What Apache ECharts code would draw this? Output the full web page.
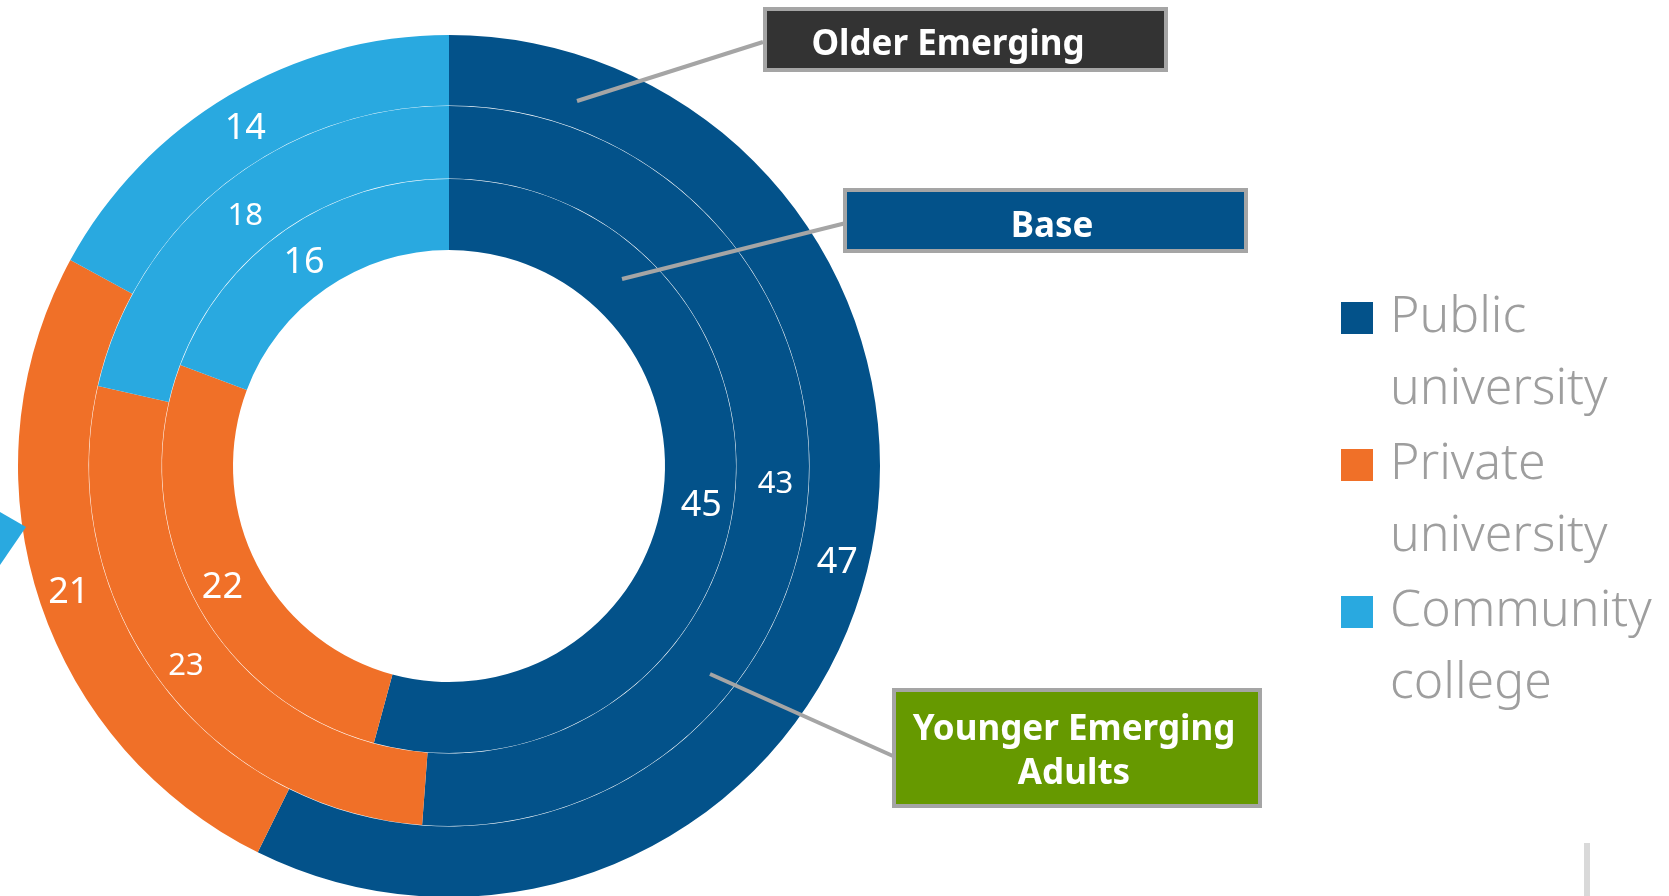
<!DOCTYPE html>
<html>
<head>
<meta charset="utf-8">
<title>Institution type by group</title>
<script src="https://cdn.jsdelivr.net/npm/echarts@6/dist/echarts.min.js"></script>
<style>
  html, body { margin: 0; padding: 0; background: #ffffff; }
  #chart { width: 1669px; height: 896px; }
</style>
</head>
<body>
<div id="chart"></div>
<script>
// Institution types (slice order, clockwise from 12 o'clock)
const categories = ['Public university', 'Private university', 'Community college'];
// Ring values, inner to outer
const baseValues = [45, 22, 16];
const youngerValues = [43, 23, 18];
const olderValues = [47, 21, 14];
const ringNames = ['Base', 'Younger Emerging Adults', 'Older Emerging'];

const colors = ['#03528a', '#f07028', '#29a9e0'];
const FONT = '"Noto Sans", "Open Sans", sans-serif';
const CX = 449, CY = 466;

function ring(name, values, radius, fontSize) {
  return {
    type: 'pie',
    name: name,
    center: [CX, CY],
    radius: radius,
    startAngle: 90,
    clockwise: true,
    silent: true,
    avoidLabelOverlap: false,
    itemStyle: { borderWidth: 0 },
    label: {
      show: true,
      position: 'inside',
      // small spacer line above the value nudges the digits onto the ring centre
      formatter: '{s| }\n{v|{c}}',
      rich: {
        s: { fontSize: 8, lineHeight: 12 },
        v: {
          color: '#ffffff',
          fontFamily: FONT,
          fontSize: fontSize,
          lineHeight: fontSize,
          fontWeight: 'normal'
        }
      }
    },
    labelLine: { show: false },
    emphasis: { disabled: true },
    data: categories.map((c, i) => ({ name: c, value: values[i] }))
  };
}

function callout(box, lineFrom, lineTo, fill, lines, textCenter) {
  const els = [];
  els.push({
    type: 'line', z: 100,
    shape: { x1: lineFrom[0], y1: lineFrom[1], x2: lineTo[0], y2: lineTo[1] },
    style: { stroke: '#a5a5a5', lineWidth: 4 }
  });
  els.push({
    type: 'rect', z: 101,
    shape: { x: box[0], y: box[1], width: box[2], height: box[3] },
    style: { fill: fill, stroke: '#a5a5a5', lineWidth: 4 }
  });
  lines.forEach((t, i) => {
    els.push({
      type: 'text', z: 102,
      x: textCenter[0], y: textCenter[1] + i * 44,
      style: {
        text: t, fill: '#ffffff', font: 'bold 35px ' + FONT,
        textAlign: 'center', textVerticalAlign: 'middle'
      }
    });
  });
  return els;
}

const chart = echarts.init(document.getElementById('chart'), null, { renderer: 'canvas' });

chart.setOption({
  animation: false,
  color: colors,
  legend: {
    orient: 'vertical',
    left: 1341,
    top: 210,
    padding: 0,
    itemGap: -69,
    itemWidth: 32,
    itemHeight: 32,
    icon: 'rect',
    selectedMode: false,
    data: categories,
    // blank first line keeps the name's first line level with the swatch
    formatter: n => ' \n' + n.replace(' ', '\n'),
    textStyle: {
      fontFamily: FONT,
      fontSize: 50,
      fontWeight: 300,
      lineHeight: 72,
      color: '#9e9e9e',
      padding: [0, 0, 0, 12]
    }
  },
  series: [
    ring(ringNames[0], baseValues, [216, 287], 36),
    ring(ringNames[1], youngerValues, [287.5, 360], 31),
    ring(ringNames[2], olderValues, [360.5, 431], 36)
  ],
  graphic: [
    // decorative marker at the left edge
    {
      type: 'polygon', z: 50,
      shape: { points: [[0, 512], [26, 527], [0, 565]] },
      style: { fill: '#29a9e0' }
    },
    // thin divider at lower right
    {
      type: 'rect', z: 50,
      shape: { x: 1584, y: 843, width: 6, height: 60 },
      style: { fill: '#d9d9d9' }
    },
    ...callout([765, 9, 401, 61], [763, 42], [577, 101], '#333333', [ringNames[2]], [948, 45]),
    ...callout([845, 190, 401, 61], [846, 223], [622, 279], '#03528a', [ringNames[0]], [1052, 227]),
    ...callout([894, 690, 366, 116], [893, 756], [710, 674], '#669900', ['Younger Emerging', 'Adults'], [1074, 730])
  ]
});
</script>
</body>
</html>
